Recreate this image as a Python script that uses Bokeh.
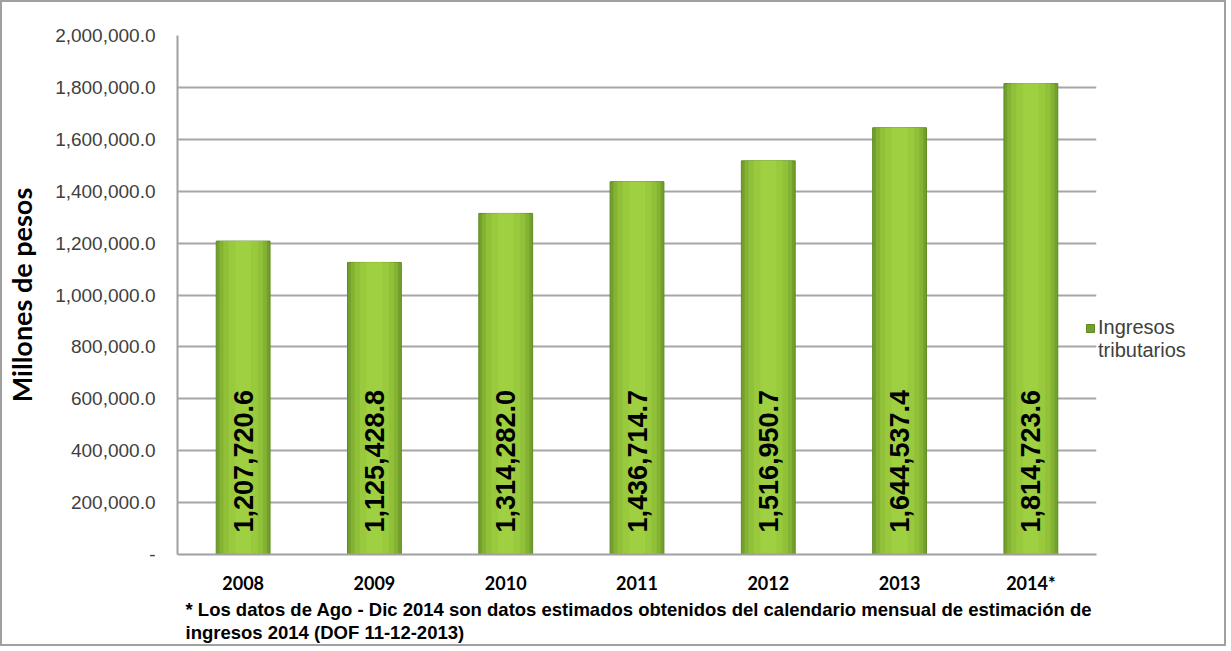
import math
from bokeh.plotting import figure
from bokeh.models import (ColumnDataSource, LabelSet, Legend, LegendItem, Title,
                          CustomJSTickFormatter, FixedTicker, Range1d)
from bokeh.core.properties import value
from bokeh.embed import file_html
from bokeh.resources import INLINE

years = ["2008", "2009", "2010", "2011", "2012", "2013", "2014*"]
ingresos = [1207720.6, 1125428.8, 1314282.0, 1436714.7, 1516950.7, 1644537.4, 1814723.6]
y_ticks = [0, 200000, 400000, 600000, 800000, 1000000, 1200000, 1400000, 1600000, 1800000, 2000000]
series_line_1 = "Ingresos"
series_line_2 = "tributarios"
y_title = "Millones de pesos"
note_1 = "* Los datos de Ago - Dic 2014 son datos estimados obtenidos del calendario mensual de estimación de"
note_2 = "ingresos 2014 (DOF 11-12-2013)"

src = ColumnDataSource(dict(
    x=years, top=ingresos,
    lab=["{:,.1f}".format(v) for v in ingresos],
    base=[0] * len(years),
))

p = figure(x_range=years, y_range=Range1d(0, 2000000),
           frame_width=919, frame_height=519,
           output_backend="svg", toolbar_location=None,
           min_border_left=174, min_border_right=132, min_border_top=33, min_border_bottom=92)
p.styles = {"border": "2px solid #a0a0a0", "width": "1226px", "height": "646px",
            "overflow": "hidden"}
p.outline_line_color = None
p.background_fill_color = "white"

# bars with a simple horizontal shading
outer = p.vbar(x="x", top="top", width=0.41, source=src, fill_color="#739f2c",
               line_color="#5f8a22", line_width=1)
p.vbar(x="x", top="top", width=0.36, source=src, fill_color="#84b333", line_color=None)
p.vbar(x="x", top="top", width=0.30, source=src, fill_color="#90c139", line_color=None)
p.vbar(x="x", top="top", width=0.22, source=src, fill_color="#99ca3d", line_color=None)
p.vbar(x="x", top="top", width=0.12, source=src, fill_color="#9fd041", line_color=None)
# invisible renderer only used for the second legend line
blank = p.vbar(x="x", top="top", width=0.41, source=src, fill_alpha=0, line_alpha=0)

labels = LabelSet(x="x", y="base", text="lab", source=src, angle=math.pi / 2,
                  text_align="left", text_baseline="middle", y_offset=22,
                  text_font=value("Liberation Sans"), text_font_style="bold",
                  text_font_size="27px", text_color="black")
p.add_layout(labels)

# axes
p.yaxis.ticker = FixedTicker(ticks=y_ticks)
p.yaxis.formatter = CustomJSTickFormatter(code="""
if (tick == 0) { return '-'; }
return tick.toLocaleString('en-US', {minimumFractionDigits: 1, maximumFractionDigits: 1});
""")
p.yaxis.major_label_text_font = "Liberation Sans"
p.yaxis.major_label_text_font_size = "19px"
p.yaxis.major_label_text_color = "#404040"
p.yaxis.major_label_standoff = 22
p.yaxis.major_tick_out = 0
p.yaxis.major_tick_in = 0
p.yaxis.major_tick_line_color = None
p.yaxis.minor_tick_line_color = None
p.yaxis.axis_line_color = "#a0a0a0"
p.yaxis.axis_line_width = 2
p.yaxis.axis_label = y_title
p.yaxis.axis_label_text_font = "Lato"
p.yaxis.axis_label_text_font_style = "bold"
p.yaxis.axis_label_text_font_size = "27px"
p.yaxis.axis_label_text_color = "black"
p.yaxis.axis_label_standoff = 14

p.xaxis.major_label_text_font = "Lato"
p.xaxis.major_label_text_font_style = "bold"
p.xaxis.major_label_text_font_size = "18px"
p.xaxis.major_label_text_color = "black"
p.xaxis.major_label_standoff = 17
p.xaxis.major_tick_out = 0
p.xaxis.major_tick_in = 0
p.xaxis.major_tick_line_color = None
p.xaxis.axis_line_color = "#a0a0a0"
p.xaxis.axis_line_width = 2

p.xgrid.grid_line_color = None
p.ygrid.grid_line_color = "#a6a6a6"
p.ygrid.grid_line_width = 2

# legend, just right of the plot area
legend = Legend(items=[LegendItem(label=series_line_1, renderers=[outer]),
                       LegendItem(label=series_line_2, renderers=[blank])],
                location=(-11, 192), border_line_color=None,
                background_fill_alpha=0, padding=0, margin=0, spacing=0,
                glyph_width=10, glyph_height=10, label_height=22, label_standoff=3,
                label_text_font="Liberation Sans", label_text_font_size="20px",
                label_text_color="#404040")
p.add_layout(legend, "right")

# footnote
for txt in [note_1, note_2]:
    p.add_layout(Title(text=txt, align="left", offset=8, standoff=0,
                       text_font="Liberation Sans", text_font_style="bold",
                       text_font_size="18.5px", text_color="black"), "below")

open("out.html", "w").write(file_html(p, INLINE))
